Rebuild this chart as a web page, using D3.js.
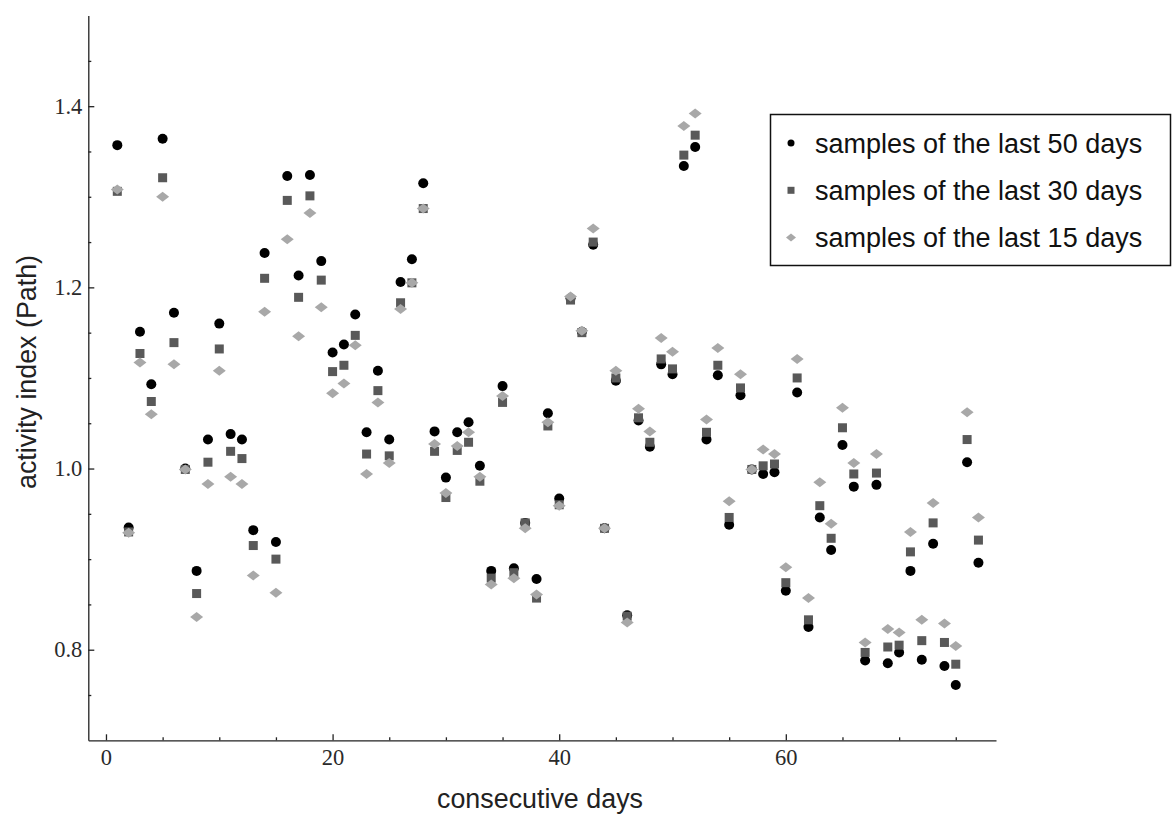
<meta charset="utf-8">
<style>
  body { margin: 0; background: #fff; }
  .tick text { font-family: "Liberation Serif", "Times New Roman", serif; fill: #2a2a2a; }
</style>
<svg width="1172" height="816"></svg>
<script src="https://d3js.org/d3.v7.min.js"></script>
<script>
// consecutive days
var days = [1,2,3,4,5,6,7,8,9,10,11,12,13,14,15,16,17,18,19,20,21,22,23,24,25,26,27,28,29,30,
  31,32,33,34,35,36,37,38,39,40,41,42,43,44,45,46,47,48,49,50,51,52,53,54,55,56,57,58,59,60,
  61,62,63,64,65,66,67,68,69,70,71,72,73,74,75,76,77];

// activity index, samples of the last 50 days
var last50 = [1.357,0.935,1.151,1.093,1.364,1.172,1.000,0.887,1.032,1.160,
  1.038,1.032,0.932,1.238,0.919,1.323,1.213,1.324,1.229,1.128,
  1.137,1.170,1.040,1.108,1.032,1.206,1.231,1.315,1.041,0.990,
  1.040,1.051,1.003,0.887,1.091,0.890,0.940,0.878,1.061,0.967,
  1.188,1.151,1.247,0.934,1.097,0.838,1.053,1.024,1.115,1.104,
  1.334,1.355,1.032,1.103,0.938,1.081,0.999,0.994,0.996,0.865,
  1.084,0.825,0.946,0.910,1.026,0.980,0.788,0.982,0.785,0.797,
  0.887,0.789,0.917,0.782,0.761,1.007,0.896];

// samples of the last 30 days
var last30 = [1.306,0.930,1.127,1.074,1.321,1.139,0.999,0.862,1.007,1.132,
  1.019,1.011,0.915,1.210,0.900,1.296,1.189,1.301,1.208,1.107,
  1.114,1.147,1.016,1.086,1.014,1.183,1.205,1.287,1.019,0.968,
  1.020,1.029,0.986,0.879,1.073,0.885,0.940,0.857,1.047,0.960,
  1.186,1.150,1.250,0.934,1.100,0.837,1.056,1.029,1.121,1.110,
  1.346,1.368,1.040,1.114,0.946,1.089,0.999,1.003,1.005,0.874,
  1.100,0.833,0.959,0.923,1.045,0.994,0.797,0.995,0.803,0.805,
  0.908,0.810,0.940,0.808,0.784,1.032,0.921];

// samples of the last 15 days
var last15 = [1.308,0.929,1.117,1.060,1.300,1.115,0.999,0.836,0.983,1.108,
  0.991,0.983,0.882,1.173,0.863,1.253,1.146,1.282,1.178,1.083,
  1.094,1.136,0.994,1.073,1.006,1.176,1.205,1.287,1.027,0.973,
  1.025,1.040,0.991,0.872,1.080,0.879,0.934,0.861,1.051,0.959,
  1.190,1.152,1.265,0.934,1.108,0.830,1.066,1.041,1.144,1.129,
  1.378,1.392,1.054,1.133,0.964,1.104,0.999,1.021,1.016,0.891,
  1.121,0.857,0.985,0.939,1.067,1.006,0.808,1.016,0.823,0.819,
  0.930,0.833,0.962,0.829,0.804,1.062,0.946];

var seriesNames = ["samples of the last 50 days", "samples of the last 30 days", "samples of the last 15 days"];
var xMajor = [0, 20, 40, 60];
var xMinor = [5, 10, 15, 25, 30, 35, 45, 50, 55, 65, 70, 75];
var yMajor = [0.8, 1.0, 1.2, 1.4];
var yMinor = [0.75, 0.85, 0.9, 0.95, 1.05, 1.1, 1.15, 1.25, 1.3, 1.35, 1.45];

var svg = d3.select("svg");

var x = d3.scaleLinear().domain([-1.56, 78.55]).range([88.3, 996]);
var y = d3.scaleLinear().domain([0.7, 1.5]).range([740.3, 15.6]);

var axisColor = "#222";

// x axis
var gx = svg.append("g")
    .attr("transform", "translate(0," + y(0.7) + ")")
    .call(d3.axisBottom(x).tickValues(xMajor).tickSizeInner(-6).tickSizeOuter(0).tickPadding(9)
      .tickFormat(d3.format("d")));
svg.append("g")
    .attr("transform", "translate(0," + y(0.7) + ")")
    .call(d3.axisBottom(x).tickValues(xMinor).tickSizeInner(-3).tickSizeOuter(0).tickFormat(""))
    .select(".domain").remove();

// y axis
var gy = svg.append("g")
    .attr("transform", "translate(" + x(-1.56) + ",0)")
    .call(d3.axisLeft(y).tickValues(yMajor).tickSizeInner(-6).tickSizeOuter(0).tickPadding(6)
      .tickFormat(d3.format(".1f")));
svg.append("g")
    .attr("transform", "translate(" + x(-1.56) + ",0)")
    .call(d3.axisLeft(y).tickValues(yMinor).tickSizeInner(-3).tickSizeOuter(0).tickFormat(""))
    .select(".domain").remove();

svg.selectAll(".domain, .tick line").attr("stroke", axisColor).attr("stroke-width", 1.3);
gx.selectAll(".tick text").attr("font-size", 22.5);
gy.selectAll(".tick text").attr("font-size", 22.5);

// axis titles
svg.append("text")
    .attr("x", 540).attr("y", 808)
    .attr("text-anchor", "middle")
    .attr("font-family", "'Liberation Sans Narrow', 'Arial Narrow', 'Liberation Sans', sans-serif")
    .attr("font-size", 27).attr("fill", "#222")
    .attr("textLength", 206).attr("lengthAdjust", "spacingAndGlyphs")
    .text("consecutive days");

svg.append("text")
    .attr("transform", "translate(36,372) rotate(-90)")
    .attr("text-anchor", "middle")
    .attr("font-family", "'Liberation Sans Narrow', 'Arial Narrow', 'Liberation Sans', sans-serif")
    .attr("font-size", 27).attr("fill", "#222")
    .attr("textLength", 234).attr("lengthAdjust", "spacingAndGlyphs")
    .text("activity index (Path)");

// markers
function diamond(w, h) {
  return "M0," + (-h) + "L" + w + ",0L0," + h + "L" + (-w) + ",0Z";
}

var plot = svg.append("g");

plot.selectAll("circle.s50")
  .data(days)
  .enter().append("circle")
    .attr("class", "s50")
    .attr("cx", function(d, i) { return x(d); })
    .attr("cy", function(d, i) { return y(last50[i]); })
    .attr("r", 5)
    .attr("fill", "#000");

plot.selectAll("rect.s30")
  .data(days)
  .enter().append("rect")
    .attr("class", "s30")
    .attr("x", function(d, i) { return x(d) - 4.5; })
    .attr("y", function(d, i) { return y(last30[i]) - 4.5; })
    .attr("width", 9).attr("height", 9)
    .attr("fill", "#595959");

plot.selectAll("path.s15")
  .data(days)
  .enter().append("path")
    .attr("class", "s15")
    .attr("transform", function(d, i) { return "translate(" + x(d) + "," + y(last15[i]) + ")"; })
    .attr("d", diamond(6.5, 5))
    .attr("fill", "#a8a8a8");

// legend
var legend = svg.append("g");
legend.append("rect")
    .attr("x", 770.5).attr("y", 114.5)
    .attr("width", 400).attr("height", 151)
    .attr("fill", "#fff").attr("stroke", "#111").attr("stroke-width", 1.5);

var rows = legend.selectAll("g.row")
  .data(seriesNames)
  .enter().append("g")
    .attr("class", "row")
    .attr("transform", function(d, i) { return "translate(791," + (143 + i * 47.3) + ")"; });

rows.append("text")
    .attr("x", 24).attr("y", 9.5)
    .attr("font-family", "'Liberation Sans', Arial, sans-serif")
    .attr("font-size", 27).attr("fill", "#111")
    .text(function(d) { return d; });

rows.filter(function(d, i) { return i === 0; }).append("circle").attr("r", 3.5).attr("fill", "#000");
rows.filter(function(d, i) { return i === 1; }).append("rect")
    .attr("x", -3.5).attr("y", -3.5).attr("width", 7).attr("height", 7).attr("fill", "#595959");
rows.filter(function(d, i) { return i === 2; }).append("path")
    .attr("d", diamond(5, 4)).attr("fill", "#a8a8a8");
</script>
